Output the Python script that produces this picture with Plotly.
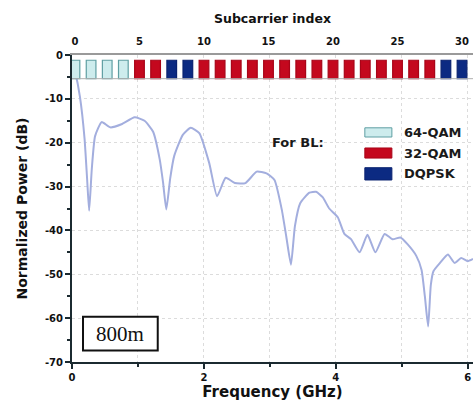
import plotly.graph_objects as go

# Spectrum curve (frequency in GHz, normalized power in dB)
freq = [0.00, 0.05, 0.12, 0.19, 0.23, 0.26, 0.30, 0.35, 0.45, 0.58, 0.75, 0.95, 1.10, 1.23,
        1.33, 1.38, 1.43, 1.49, 1.55, 1.68, 1.80, 1.93, 2.08, 2.20, 2.33, 2.47, 2.63, 2.80,
        2.95, 3.07, 3.18, 3.25, 3.32, 3.38, 3.46, 3.60, 3.70, 3.80, 3.90, 4.03, 4.13, 4.23,
        4.36, 4.48, 4.60, 4.74, 4.86, 4.98, 5.09, 5.22, 5.30, 5.35, 5.40, 5.44, 5.48, 5.58,
        5.70, 5.80, 5.90, 6.00, 6.08]
power = [-1.5, -4.0, -9.5, -19.0, -28.5, -35.5, -26.0, -18.5, -15.3, -16.5, -15.8, -14.2, -15.0, -17.5,
         -23.8, -29.0, -35.2, -28.0, -23.0, -18.2, -16.6, -17.8, -24.6, -32.2, -28.0, -29.2, -29.2, -26.6,
         -27.0, -28.5, -35.2, -41.5, -47.8, -39.0, -33.8, -31.4, -31.2, -32.4, -35.0, -37.0, -40.8, -42.0,
         -45.0, -41.0, -45.0, -40.8, -42.0, -41.6, -43.2, -45.8, -49.0, -55.0, -61.9, -52.5, -49.3, -47.4,
         -45.5, -47.4, -46.3, -47.0, -46.5]

# Subcarrier bar positions (on subcarrier-index axis) and modulation per bar
bar_pos = [0, 1.25, 2.5, 3.75, 5, 6.25, 7.5, 8.75, 10, 11.25, 12.5, 13.75, 15, 16.25,
           17.5, 18.75, 20, 21.25, 22.5, 23.75, 25, 26.25, 27.5, 28.75, 30]
bar_mod = ["64-QAM"] * 4 + ["32-QAM"] * 2 + ["DQPSK"] * 2 + ["32-QAM"] * 15 + ["DQPSK"] * 2
bar_top = -1.2
bar_bottom = -5.4

mod_names = ["64-QAM", "32-QAM", "DQPSK"]
mod_fill = {"64-QAM": "#cdeced", "32-QAM": "#c4081e", "DQPSK": "#0c2a82"}
mod_line = {"64-QAM": "#5f9fa3", "32-QAM": "#a80518", "DQPSK": "#0a2270"}

x_ticks = [0, 2, 4, 6]
y_ticks = [0, -10, -20, -30, -40, -50, -60, -70]
y_ticktext = ["0", "-10", "-20", "-30", "-40", "-50", "-60", "-70"]
sc_ticks = [0, 5, 10, 15, 20, 25, 30]

fig = go.Figure()

for m in mod_names:
    xs = [p for p, mm in zip(bar_pos, bar_mod) if mm == m]
    fig.add_trace(go.Bar(
        x=xs, y=[bar_top - bar_bottom] * len(xs), base=[bar_bottom] * len(xs),
        width=0.75, xaxis="x2", yaxis="y",
        marker=dict(color=mod_fill[m], line=dict(color=mod_line[m], width=1.2)),
        showlegend=False, hoverinfo="skip"))

fig.add_trace(go.Scatter(
    x=freq, y=power, mode="lines",
    line=dict(color="#a3aede", width=2, shape="spline", smoothing=0.5),
    showlegend=False, xaxis="x", yaxis="y"))

FONT = "DejaVu Sans"
tickfont = dict(family=FONT, size=10, color="#111", weight="bold")

fig.update_layout(
    width=473, height=405,
    margin=dict(l=72, r=0, t=55, b=43),
    paper_bgcolor="white", plot_bgcolor="white",
    barmode="overlay",
    xaxis=dict(
        range=[0, 6.08], tickvals=x_ticks, ticks="outside", ticklen=5, tickwidth=1.5,
        tickcolor="#1b2a30", tickfont=tickfont,
        showline=True, linecolor="#1b2a30", linewidth=2,
        showgrid=True, gridcolor="#dcdcdc", griddash="dot", gridwidth=1,
        minor=dict(dtick=1, showgrid=True, gridcolor="#dcdcdc", griddash="dot",
                   ticks="outside", ticklen=3, tickcolor="#1b2a30"),
        zeroline=False,
        title=dict(text="Frequency (GHz)", font=dict(family=FONT, size=15, color="#111", weight="bold"),
                   standoff=2),
    ),
    xaxis2=dict(
        range=[-0.23, 30.85], overlaying="x", side="top", anchor="y",
        tickvals=sc_ticks, ticks="", tickfont=tickfont, ticklabelstandoff=4,
        showline=True, linecolor="#9a9a9a", linewidth=1.5, showgrid=False, zeroline=False,
        title=dict(text="Subcarrier index", font=dict(family=FONT, size=12.5, color="#111", weight="bold"),
                   standoff=10),
    ),
    yaxis=dict(
        range=[-70, 0], tickvals=y_ticks, ticktext=y_ticktext, ticks="outside", ticklen=5, tickwidth=1.5,
        tickcolor="#1b2a30", tickfont=tickfont,
        showline=True, linecolor="#1b2a30", linewidth=2,
        showgrid=True, gridcolor="#dcdcdc", griddash="dot",
        minor=dict(dtick=5, ticks="outside", ticklen=3, tickcolor="#1b2a30"),
        zeroline=False,
        title=dict(text="Normalized Power (dB)", font=dict(family=FONT, size=14, color="#111", weight="bold"),
                   standoff=14),
    ),
)

shapes = []
# baseline under the bars
shapes.append(dict(type="line", xref="paper", yref="y", x0=0, x1=1, y0=bar_bottom, y1=bar_bottom,
                   line=dict(color="#b0b0b0", width=1)))
# legend swatches
rows = [(-16.6, -18.7), (-21.2, -23.5), (-25.7, -28.5)]
annotations = []
for m, (y0, y1) in zip(mod_names, rows):
    shapes.append(dict(type="rect", xref="x", yref="y", x0=4.44, x1=4.85, y0=y1, y1=y0,
                       fillcolor=mod_fill[m], line=dict(color=mod_line[m], width=1)))
    annotations.append(dict(x=5.0, y=(y0 + y1) / 2, xref="x", yref="y", text=m, showarrow=False,
                            xanchor="left", yanchor="middle",
                            font=dict(family=FONT, size=13, color="#1a1a1a", weight="bold")))
annotations.append(dict(x=3.42, y=-19.9, xref="x", yref="y", text="For BL:", showarrow=False,
                        xanchor="center", yanchor="middle",
                        font=dict(family=FONT, size=13, color="#1a1a1a", weight="bold")))
# 800m box
shapes.append(dict(type="rect", xref="x", yref="y", x0=0.167, x1=1.30, y0=-67.4, y1=-59.7,
                   fillcolor="white", line=dict(color="#111", width=2)))
annotations.append(dict(x=0.73, y=-63.55, xref="x", yref="y", text="800m", showarrow=False,
                        xanchor="center", yanchor="middle",
                        font=dict(family="Liberation Serif", size=21, color="#111")))

fig.update_layout(shapes=shapes, annotations=annotations)

fig.write_html("out.html")
